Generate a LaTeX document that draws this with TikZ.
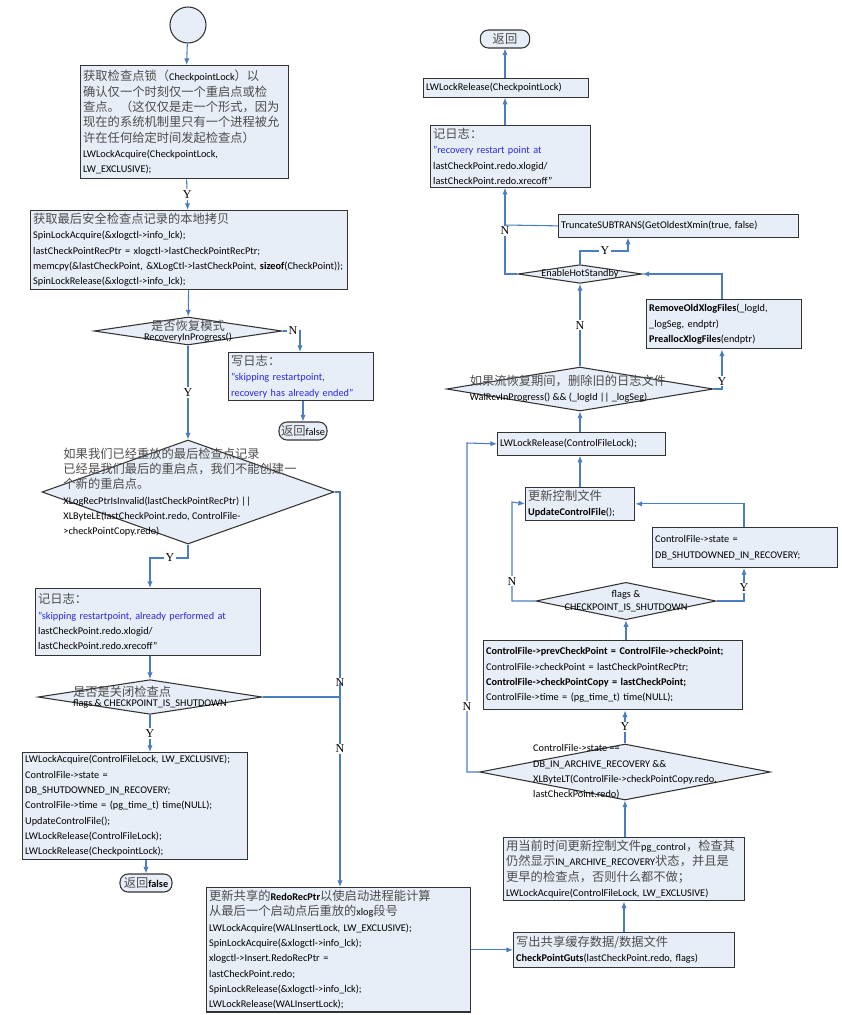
\documentclass[tikz,border=0pt]{standalone}
\usepackage{fontspec}
\setmainfont{Carlito}
\newfontfamily\cjk{Noto Sans CJK SC}
\newfontfamily\yn{Liberation Serif}
\usetikzlibrary{shapes.geometric,arrows.meta}
\definecolor{boxfill}{RGB}{232,238,247}
\definecolor{flow}{RGB}{74,126,192}
\definecolor{logblue}{RGB}{40,40,230}
\newcommand{\zh}[1]{{\cjk\fontsize{9.2}{11.5}\selectfont\color{black!70}#1}}
\tikzset{
  box/.style={draw=black!80, fill=boxfill, line width=0.8pt, anchor=north west, inner sep=2pt,
    align=left, font=\fontsize{7.7}{11.5}\selectfont},
  dia/.style={diamond, draw=black!80, fill=boxfill, line width=0.8pt, inner sep=0pt},
  dtext/.style={align=left, font=\fontsize{7.7}{11.5}\selectfont},
  term/.style={draw=black!80, fill=boxfill, line width=0.8pt, rounded corners=6pt, inner sep=1pt,
    minimum height=13.5pt, font=\fontsize{7.7}{11}\selectfont},
  flw/.style={draw=flow, line width=0.8pt, -{Latex[length=5pt,width=4pt]}},
  ln/.style={draw=flow, line width=0.8pt},
  yn/.style={font=\yn\fontsize{9}{10}\selectfont, fill=white, inner sep=1pt}
}
\begin{document}
\begin{tikzpicture}[x=0.75pt,y=-0.75pt]
\useasboundingbox (0,0) rectangle (842,1015);

%left column
\node[circle, draw=black!80, fill=boxfill, line width=0.8pt, minimum size=27pt] (start) at (188,25) {};
\node[box, text width=152pt, minimum height=85pt] (lock) at (80,65)
  {\zh{获取检查点锁（}CheckpointLock\zh{）以}\\ \zh{确认仅一个时刻仅一个重启点或检}\\ \zh{查点。（这仅仅是走一个形式，因为}\\ \zh{现在的系统机制里只有一个进程被允}\\ \zh{许在任何给定时间发起检查点）}\\ LWLockAcquire(CheckpointLock,\\ LW\_EXCLUSIVE);};
\node[box, text width=234pt, minimum height=58pt] (copy) at (30,210)
  {\zh{获取最后安全检查点记录的本地拷贝}\\ SpinLockAcquire(\&xlogctl->info\_lck);\\ lastCheckPointRecPtr = xlogctl->lastCheckPointRecPtr;\\ \mbox{memcpy(\&lastCheckPoint, \&XLogCtl->lastCheckPoint, \textbf{sizeof}(CheckPoint));}\\ SpinLockRelease(\&xlogctl->info\_lck);};
\node[dia, minimum width=141pt, minimum height=21pt,
  label={[dtext, align=center]center:\zh{是否恢复模式}\\[-4pt] RecoveryInProgress()}] (inrec) at (188,331) {};
\node[box, text width=105pt, minimum height=36pt] (log1) at (228,352)
  {\zh{写日志：}\\ \textcolor{logblue}{"skipping restartpoint,}\\ \textcolor{logblue}{recovery has already ended"}};
\node[term, minimum width=36pt] (ret1) at (303,431) {\zh{返回}false};
\node[dia, minimum width=219pt, minimum height=78pt] (done) at (188,492) {};
\node[dtext] (donet) at (180,492) {\zh{如果我们已经重放的最后检查点记录}\\ \zh{已经是我们最后的重启点，我们不能创建一}\\ \zh{个新的重启点。}\\ XLogRecPtrIsInvalid(lastCheckPointRecPtr) ||\\ XLByteLE(lastCheckPoint.redo, ControlFile-\\ >checkPointCopy.redo)};
\node[box, text width=165pt, minimum height=50pt] (log2) at (35,588)
  {\zh{记日志：}\\ \textcolor{logblue}{"skipping restartpoint, already performed at}\\ lastCheckPoint.redo.xlogid/\\ lastCheckPoint.redo.xrecoff"};
\node[dia, minimum width=168pt, minimum height=26pt,
  label={[dtext]center:\zh{是否是关闭检查点}\\[-4pt] flags \& CHECKPOINT\_IS\_SHUTDOWN}] (shut1) at (150,697) {};
\node[box, text width=165pt, minimum height=73pt] (upd1) at (22,752)
  {LWLockAcquire(ControlFileLock, LW\_EXCLUSIVE);\\ ControlFile->state =\\ DB\_SHUTDOWNED\_IN\_RECOVERY;\\ ControlFile->time = (pg\_time\_t) time(NULL);\\ UpdateControlFile();\\ LWLockRelease(ControlFileLock);\\ LWLockRelease(CheckpointLock);};
\node[term, minimum width=39pt] (ret2) at (146,883) {\zh{返回}\textbf{false}};
\node[box, text width=194pt, minimum height=88pt] (redo) at (206,887)
  {\zh{更新共享的}\textbf{RedoRecPtr}\zh{以使启动进程能计算}\\ \zh{从最后一个启动点后重放的}xlog\zh{段号}\\ LWLockAcquire(WALInsertLock, LW\_EXCLUSIVE);\\ SpinLockAcquire(\&xlogctl->info\_lck);\\ xlogctl->Insert.RedoRecPtr =\\ lastCheckPoint.redo;\\ SpinLockRelease(\&xlogctl->info\_lck);\\ LWLockRelease(WALInsertLock);};

%right column
\node[box, text width=162pt, minimum height=26pt] (guts) at (513,932)
  {\zh{写出共享缓存数据/数据文件}\\ \textbf{CheckPointGuts}(lastCheckPoint.redo, flags)};
\node[box, text width=177pt, minimum height=45pt] (ctl) at (503,837)
  {\zh{用当前时间更新控制文件}pg\_control\zh{，检查其}\\ \zh{仍然显示}IN\_ARCHIVE\_RECOVERY\zh{状态，并且是}\\ \zh{更早的检查点，否则什么都不做；}\\ LWLockAcquire(ControlFileLock, LW\_EXCLUSIVE)};
\node[dia, minimum width=218pt, minimum height=42pt] (arch) at (625,772) {};
\node[dtext] (archt) at (625,772) {ControlFile->state ==\\ DB\_IN\_ARCHIVE\_RECOVERY \&\&\\ XLByteLT(ControlFile->checkPointCopy.redo,\\ lastCheckPoint.redo)};
\node[box, text width=190pt, minimum height=52pt] (setcp) at (483,640)
  {\textbf{ControlFile->prevCheckPoint = ControlFile->checkPoint;}\\ ControlFile->checkPoint = lastCheckPointRecPtr;\\ \textbf{ControlFile->checkPointCopy = lastCheckPoint;}\\ ControlFile->time = (pg\_time\_t) time(NULL);};
\node[dia, minimum width=135pt, minimum height=28pt,
  label={[dtext, align=center]center:flags \&\\[-2pt] CHECKPOINT\_IS\_SHUTDOWN}] (shut2) at (626,601) {};
\node[box, text width=135pt, minimum height=30pt] (state) at (652,527)
  {ControlFile->state =\\ DB\_SHUTDOWNED\_IN\_RECOVERY;};
\node[box, text width=78pt, minimum height=23pt] (updcf) at (525,487)
  {\zh{更新控制文件}\\ \textbf{UpdateControlFile}();};
\node[box, text width=122pt, minimum height=17pt] (rel) at (497,432) {LWLockRelease(ControlFileLock);};
\node[dia, minimum width=200pt, minimum height=33pt] (walrcv) at (580,389) {};
\node[dtext] (walrcvt) at (568,389) {\zh{如果流恢复期间，删除旧的日志文件}\\ WalRcvInProgress() \&\& (\_logId || \_logSeg)};
\node[box, text width=112pt, minimum height=37pt] (rmold) at (646,299)
  {\textbf{RemoveOldXlogFiles}(\_logId,\\ \_logSeg, endptr)\\ \textbf{PreallocXlogFiles}(endptr)};
\node[dia, minimum width=93pt, minimum height=14pt,
  label={[dtext]center:EnableHotStandby}] (hot) at (580,274) {};
\node[box, text width=176pt, minimum height=17pt] (trunc) at (558,214) {TruncateSUBTRANS(GetOldestXmin(true, false)};
\node[box, text width=116pt, minimum height=45pt] (log3) at (430,125)
  {\zh{记日志：}\\ \textcolor{logblue}{"recovery restart point at}\\ lastCheckPoint.redo.xlogid/\\ lastCheckPoint.redo.xrecoff"};
\node[box, text width=120pt, minimum height=14pt] (relcp) at (423,78) {LWLockRelease(CheckpointLock)};
\node[term, minimum width=37pt] (ret3) at (505,39) {\zh{返回}};

%connectors left
\draw[flw] (start) -- (lock);
\draw[flw] (lock) -- node[yn]{Y} (copy);
\draw[flw] (copy) -- (inrec);
\draw[flw] (inrec.east) -| node[yn, pos=0.3]{N} (log1.north -| 300,0);
\draw[flw] (log1.south -| ret1) -- (ret1);
\draw[flw] (inrec) -- node[yn]{Y} (done);
\draw[flw] (done.south) |- (170,558) node[yn]{Y} -| (log2.north -| 150,0);
\draw[flw] (log2.south -| shut1) -- (shut1);
\draw[flw] (shut1) -- node[yn]{Y} (upd1.north -| shut1);
\draw[flw] (upd1.south -| ret2) -- (ret2);
\draw[ln] (done.east) -| (340,683) node[yn]{N};
\draw[flw] (340,683) -- (340,749) node[yn]{N} -- (redo.north -| 340,0);
\draw[ln] (shut1.east) -- (340,697);
\draw[flw] (redo.east |- guts) -- (guts);

%connectors right
\draw[flw] (guts.north -| 624,0) -- (ctl.south -| 624,0);
\draw[flw] (ctl.north -| arch) -- (arch);
\draw[flw] (arch) -- node[yn]{Y} (setcp.south -| arch);
\draw[flw] (setcp.north -| shut2) -- (shut2);
\draw[flw] (shut2.east) -| node[yn, pos=0.7]{Y} (state.south -| 744,0);
\draw[flw] (state.north -| 744,0) |- (updcf.east);
\draw[flw] (shut2.west) -| node[yn, pos=0.6]{N} (512,502) -- (updcf.west);
\draw[flw] (updcf.north -| 580,0) -- (rel.south -| 580,0);
\draw[flw] (arch.west) -| node[yn, pos=0.6]{N} (467,443) -- (rel.west);
\draw[flw] (rel.north -| walrcv) -- (walrcv);
\draw[flw] (walrcv.east) -| node[yn, pos=0.6]{Y} (rmold.south -| 722,0);
\draw[flw] (rmold.north -| 722,0) |- (hot.east);
\draw[flw] (walrcv) -- node[yn]{N} (hot);
\draw[flw] (hot.north) |- (605,251) node[yn]{Y} -| (trunc.south -| 628,0);
\draw[flw] (hot.west) -| node[yn, pos=0.75]{N} (log3.south -| 505,0);
\draw[ln] (trunc.west) -- (505,225);
\draw[flw] (log3.north -| 505,0) -- (relcp.south -| 505,0);
\draw[flw] (relcp.north -| ret3) -- (ret3);
\end{tikzpicture}
\end{document}
